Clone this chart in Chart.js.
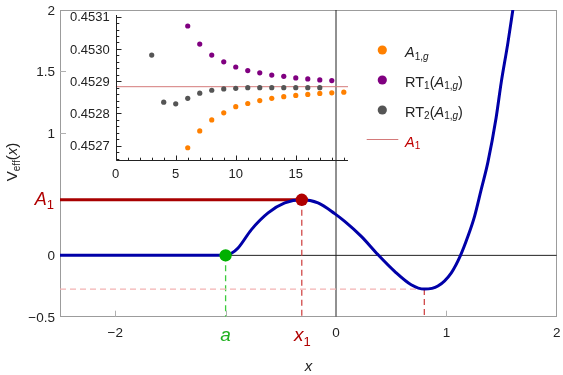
<!DOCTYPE html>
<html><head><meta charset="utf-8">
<script src="https://cdn.jsdelivr.net/npm/chart.js@4"></script>
<style>
html,body{margin:0;padding:0;background:#fff;}
#wrap{position:relative;width:563px;height:375px;}
canvas{position:absolute;left:0;top:0;}
</style>
</head><body>
<div id="wrap"><canvas id="main" width="563" height="375"></canvas><canvas id="inset" width="563" height="375"></canvas></div>
<script>
// ---- main curve V_eff(x) ----
const curveX = [-2.5, -1.0, -0.95, -0.887, -0.766, -0.615, -0.464, -0.31, -0.163, -0.012, 0.079, 0.229, 0.38, 0.531, 0.681, 0.80, 0.923, 1.043, 1.128, 1.195, 1.255, 1.315, 1.376, 1.45, 1.496, 1.557, 1.605];
const curveY = [0, 0, 0.015, 0.06, 0.21, 0.346, 0.427, 0.4529, 0.427, 0.34, 0.277, 0.155, 0.006, -0.13, -0.239, -0.275, -0.25, -0.144, 0, 0.155, 0.318, 0.536, 0.76, 1.12, 1.406, 1.732, 2.02];
const A1 = 0.452883;
const aPos = -1.0;
const x1Pos = -0.31;
const minX = 0.80;
const minV = -0.275;
const mainXTicks = [-2, 0, 1, 2];
const mainYTicks = [-0.5, 0, 1, 1.5, 2];
const mainMinorX = [-2, -1, 1];
const mainMinorY = [1, 1.5];

// ---- inset series ----
const agX = [6, 7, 8, 9, 10, 11, 12, 13, 14, 15, 16, 17, 18, 19];
const agY = [0.452694, 0.452746, 0.452780, 0.452802, 0.452821, 0.452831, 0.452840, 0.452847, 0.452852, 0.452856, 0.452859, 0.452862, 0.452864, 0.452866];
const rt1X = [6, 7, 8, 9, 10, 11, 12, 13, 14, 15, 16, 17, 18];
const rt1Y = [0.453071, 0.453015, 0.452981, 0.452960, 0.452944, 0.452933, 0.452926, 0.452919, 0.452915, 0.452910, 0.452907, 0.452904, 0.452902];
const rt2X = [3, 4, 5, 6, 7, 8, 9, 10, 11, 12, 13, 14, 15, 16, 17];
const rt2Y = [0.452981, 0.452835, 0.452830, 0.452847, 0.452863, 0.452872, 0.452876, 0.452878, 0.452880, 0.452880, 0.452880, 0.452880, 0.452880, 0.452880, 0.452880];
const insetXTicks = [0, 5, 10, 15];
const insetYTicks = [0.4527, 0.4528, 0.4529, 0.4530, 0.4531];

const FAM = '"Liberation Sans", Arial, sans-serif';
const ORANGE = '#ff8000', PURPLE = '#800080', GRAY = '#555555';

function pts(xs, ys) { return xs.map((x, i) => ({x: x, y: ys[i]})); }
function fmt(v) { return v < 0 ? '\u2212' + String(Math.abs(v)) : String(v); }
function fontStr(p) { return (p.i ? 'italic ' : '') + p.s + 'px ' + FAM; }
function drawRich(ctx, parts, x, y, align, color) {
  let w = 0;
  parts.forEach(p => { ctx.font = fontStr(p); p.w = ctx.measureText(p.t).width; w += p.w; });
  let cx = align === 'center' ? x - w / 2 : (align === 'right' ? x - w : x);
  ctx.textAlign = 'left'; ctx.textBaseline = 'alphabetic';
  parts.forEach(p => { ctx.font = fontStr(p); ctx.fillStyle = p.c || color; ctx.fillText(p.t, cx, y + (p.dy || 0)); cx += p.w; });
}
function seg(data, color, width, dash, order) {
  return {data: data, showLine: true, borderColor: color, borderWidth: width, borderDash: dash || [], pointRadius: 0, order: order, tension: 0};
}
function fixBox(w, h) {
  return s => {
    if (w !== null) s.width = w;
    if (h !== null) s.height = h;
    s.paddingLeft = 0; s.paddingRight = 0; s.paddingTop = 0; s.paddingBottom = 0;
  };
}
function noTicks() { return {display: false}; }

const mainDecor = {
  id: 'mainDecor',
  beforeDatasetsDraw(chart) {
    const ctx = chart.ctx, ca = chart.chartArea, sx = chart.scales.x, sy = chart.scales.y;
    ctx.save();
    ctx.strokeStyle = '#9c9c9c'; ctx.lineWidth = 1;
    ctx.strokeRect(Math.round(ca.left) + 0.5, Math.round(ca.top) + 0.5, Math.round(ca.right - ca.left) - 1, Math.round(ca.bottom - ca.top) - 1);
    ctx.strokeStyle = '#b0b0b0';
    mainMinorX.forEach(v => { const px = Math.round(sx.getPixelForValue(v)) + 0.5; ctx.beginPath(); ctx.moveTo(px, ca.bottom); ctx.lineTo(px, ca.bottom - 6); ctx.stroke(); });
    mainMinorY.forEach(v => { const py = Math.round(sy.getPixelForValue(v)) + 0.5; ctx.beginPath(); ctx.moveTo(ca.left, py); ctx.lineTo(ca.left + 6, py); ctx.stroke(); });
    ctx.restore();
  },
  afterDraw(chart) {
    const ctx = chart.ctx, ca = chart.chartArea, sx = chart.scales.x, sy = chart.scales.y;
    ctx.save();
    // tick labels
    ctx.fillStyle = '#222'; ctx.font = '13.5px ' + FAM; ctx.textBaseline = 'alphabetic';
    ctx.textAlign = 'center';
    mainXTicks.forEach(v => ctx.fillText(fmt(v), sx.getPixelForValue(v), 337));
    ctx.textAlign = 'right';
    mainYTicks.forEach(v => ctx.fillText(fmt(v), ca.left - 5, sy.getPixelForValue(v) + 5));
    // special tick labels
    drawRich(ctx, [{t: 'A', i: true, s: 18}, {t: '1', s: 13, dy: 4}], ca.left - 6, sy.getPixelForValue(A1) + 5, 'right', '#b00000');
    drawRich(ctx, [{t: 'a', i: true, s: 19}], sx.getPixelForValue(aPos), 340.5, 'center', '#1fb01f');
    drawRich(ctx, [{t: 'x', i: true, s: 19}, {t: '1', s: 13, dy: 5}], sx.getPixelForValue(x1Pos) + 0.5, 341, 'center', '#b00000');
    // axis titles
    drawRich(ctx, [{t: 'x', i: true, s: 15}], (ca.left + ca.right) / 2, 371, 'center', '#222');
    ctx.translate(17, 162); ctx.rotate(-Math.PI / 2);
    drawRich(ctx, [{t: 'V', s: 15}, {t: 'eff', s: 10, dy: 3}, {t: '(', s: 15}, {t: 'x', i: true, s: 15}, {t: ')', s: 15}], 0, 0, 'center', '#222');
    ctx.setTransform(1, 0, 0, 1, 0, 0);
    // legend
    const lx = 382.3, tx = 405;
    const dots = [[ORANGE, 50], [PURPLE, 80], [GRAY, 110]];
    dots.forEach(d => { ctx.fillStyle = d[0]; ctx.beginPath(); ctx.arc(lx, d[1], 4.6, 0, Math.PI * 2); ctx.fill(); });
    drawRich(ctx, [{t: 'A', i: true, s: 14.5}, {t: '1,', s: 10, dy: 2.5}, {t: 'g', i: true, s: 10, dy: 2.5}], tx, 57.3, 'left', '#222');
    drawRich(ctx, [{t: 'RT', s: 14.5}, {t: '1', s: 10, dy: 2.5}, {t: '(', s: 14.5}, {t: 'A', i: true, s: 14.5}, {t: '1,', s: 10, dy: 2.5}, {t: 'g', i: true, s: 10, dy: 2.5}, {t: ')', s: 14.5}], tx, 86.7, 'left', '#222');
    drawRich(ctx, [{t: 'RT', s: 14.5}, {t: '2', s: 10, dy: 2.5}, {t: '(', s: 14.5}, {t: 'A', i: true, s: 14.5}, {t: '1,', s: 10, dy: 2.5}, {t: 'g', i: true, s: 10, dy: 2.5}, {t: ')', s: 14.5}], tx, 116.7, 'left', '#222');
    ctx.strokeStyle = '#d47a7a'; ctx.lineWidth = 1; ctx.beginPath(); ctx.moveTo(366.7, 139.5); ctx.lineTo(398.3, 139.5); ctx.stroke();
    drawRich(ctx, [{t: 'A', i: true, s: 14.5}, {t: '1', s: 10, dy: 2.5}], tx, 146.5, 'left', '#c00000');
    ctx.restore();
  }
};

new Chart(document.getElementById('main'), {
  type: 'scatter',
  data: {datasets: [
    seg([{x: -2.5, y: 0}, {x: 2, y: 0}], '#222', 1, null, 20),
    seg([{x: 0, y: -0.5}, {x: 0, y: 2}], '#222', 1, null, 20),
    seg([{x: -2.5, y: minV}, {x: minX, y: minV}], '#f3b3b3', 1.3, [6, 4], 15),
    seg([{x: minX, y: minV}, {x: minX, y: -0.5}], '#d04848', 1.3, [6, 4], 15),
    seg([{x: aPos, y: 0}, {x: aPos, y: -0.5}], '#3ccc3c', 1.3, [6, 4], 15),
    seg([{x: x1Pos, y: A1}, {x: x1Pos, y: -0.5}], '#d04848', 1.3, [6, 4], 15),
    seg([{x: -2.5, y: A1}, {x: x1Pos, y: A1}], '#a80000', 3, null, 10),
    {data: pts(curveX, curveY), showLine: true, borderColor: '#0000a8', borderWidth: 3, pointRadius: 0, cubicInterpolationMode: 'monotone', order: 5},
    {data: [{x: aPos, y: 0}], pointRadius: 6.2, backgroundColor: '#00b000', borderWidth: 0, order: 1},
    {data: [{x: x1Pos, y: A1}], pointRadius: 6.2, backgroundColor: '#b00000', borderWidth: 0, order: 1}
  ]},
  options: {
    responsive: false, animation: false, devicePixelRatio: 1,
    layout: {padding: {left: 0, top: 10, right: 3, bottom: 0}},
    plugins: {legend: {display: false}, tooltip: {enabled: false}},
    scales: {
      x: {type: 'linear', min: -2.5, max: 2, grid: {display: false}, border: {display: false},
          afterBuildTicks: s => { s.ticks = mainXTicks.map(v => ({value: v})); },
          afterFit: fixBox(null, 58.3), ticks: noTicks()},
      y: {type: 'linear', min: -0.5, max: 2, grid: {display: false}, border: {display: false},
          afterBuildTicks: s => { s.ticks = mainYTicks.map(v => ({value: v})); },
          afterFit: fixBox(60, null), ticks: noTicks()}
    }
  },
  plugins: [mainDecor]
});

const insetDecor = {
  id: 'insetDecor',
  afterDatasetsDraw(chart) {
    const ctx = chart.ctx, ca = chart.chartArea, sx = chart.scales.x, sy = chart.scales.y;
    ctx.save();
    ctx.strokeStyle = '#222'; ctx.lineWidth = 1;
    const L = Math.round(ca.left) + 0.5, B = Math.round(ca.bottom) + 0.5;
    ctx.beginPath(); ctx.moveTo(L, ca.top); ctx.lineTo(L, B); ctx.lineTo(ca.right, B); ctx.stroke();
    for (let k = 0; k <= 19; k++) {
      const px = Math.round(sx.getPixelForValue(k)) + 0.5;
      const len = insetXTicks.indexOf(k) >= 0 ? 5 : 2.8;
      ctx.beginPath(); ctx.moveTo(px, B); ctx.lineTo(px, B - len); ctx.stroke();
    }
    for (let k = 0; k <= 22; k++) {
      const v = 0.45266 + k * 0.00002;
      if (v > sy.max) break;
      const py = Math.round(sy.getPixelForValue(v)) + 0.5;
      const major = Math.abs((v - 0.4527) / 0.0001 - Math.round((v - 0.4527) / 0.0001)) < 1e-6;
      ctx.beginPath(); ctx.moveTo(L, py); ctx.lineTo(L + (major ? 5 : 2.8), py); ctx.stroke();
    }
    ctx.fillStyle = '#222'; ctx.font = '13px ' + FAM; ctx.textBaseline = 'alphabetic';
    ctx.textAlign = 'center';
    insetXTicks.forEach(v => ctx.fillText(String(v), sx.getPixelForValue(v), 178));
    ctx.textAlign = 'right';
    insetYTicks.forEach(v => ctx.fillText(v.toFixed(4), ca.left - 6, sy.getPixelForValue(v) + 4.7));
    ctx.restore();
  }
};

new Chart(document.getElementById('inset'), {
  type: 'scatter',
  data: {datasets: [
    {data: [{x: 0, y: A1}, {x: 19.35, y: A1}], showLine: true, borderColor: '#d47a7a', borderWidth: 1, pointRadius: 0, order: 10},
    {data: pts(agX, agY), pointRadius: 2.6, backgroundColor: ORANGE, borderWidth: 0, order: 1},
    {data: pts(rt1X, rt1Y), pointRadius: 2.6, backgroundColor: PURPLE, borderWidth: 0, order: 1},
    {data: pts(rt2X, rt2Y), pointRadius: 2.6, backgroundColor: GRAY, borderWidth: 0, order: 1}
  ]},
  options: {
    responsive: false, animation: false, devicePixelRatio: 1,
    layout: {padding: {left: 0, top: 15, right: 215, bottom: 0}},
    plugins: {legend: {display: false}, tooltip: {enabled: false}},
    scales: {
      x: {type: 'linear', min: 0, max: 19.35, grid: {display: false}, border: {display: false},
          afterBuildTicks: s => { s.ticks = insetXTicks.map(v => ({value: v})); },
          afterFit: fixBox(null, 215), ticks: noTicks()},
      y: {type: 'linear', min: 0.452656, max: 0.453105, grid: {display: false}, border: {display: false},
          afterBuildTicks: s => { s.ticks = insetYTicks.map(v => ({value: v})); },
          afterFit: fixBox(115.7, null), ticks: noTicks()}
    }
  },
  plugins: [insetDecor]
});
</script>
</body></html>
